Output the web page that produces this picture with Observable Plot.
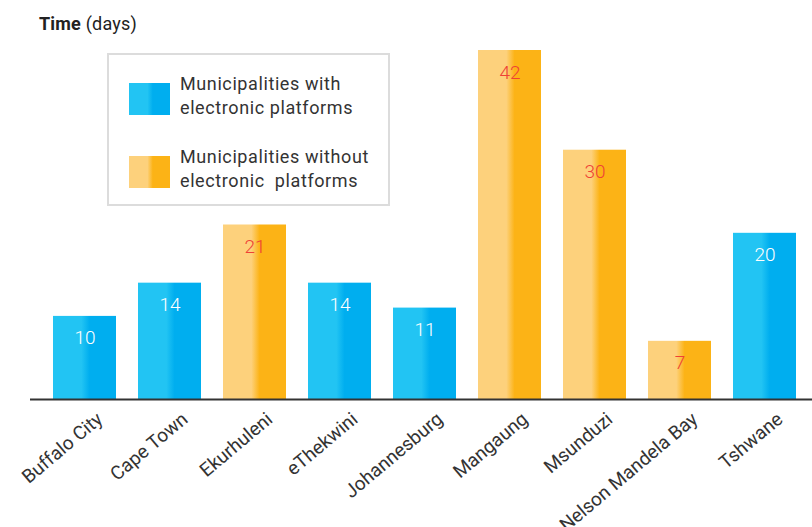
<!DOCTYPE html>
<html>
<head>
<meta charset="utf-8">
<script src="https://cdn.jsdelivr.net/npm/d3@7"></script>
<script src="https://cdn.jsdelivr.net/npm/@observablehq/plot@0.6"></script>
<style>
  body { margin: 0; background: #fff; font-family: Roboto, sans-serif; }
  #wrap { position: relative; width: 812px; height: 527px; overflow: hidden; }
  #title { position: absolute; left: 39px; top: 13px; font-size: 18px; color: #222; letter-spacing: 0.2px; }
  #title b { font-weight: 700; }
  #legend { position: absolute; left: 107px; top: 53px; width: 279px; height: 149px;
            border: 2px solid #dcdcdc; background: #fff; }
  .item { position: absolute; left: 20px; display: flex; align-items: center; }
  .sw { width: 41px; height: 32px; margin-right: 10px; }
  .lbl { font-size: 18px; line-height: 24px; color: #333; letter-spacing: 0.6px; position: relative; top: -3px; }
  svg { position: absolute; left: 0; top: 0; }
</style>
</head>
<body>
<div id="wrap">
  <div id="chart"></div>
  <div id="title"><b>Time</b> (days)</div>
  <div id="legend"></div>
</div>
<script>
const categories = ["Buffalo City","Cape Town","Ekurhuleni","eThekwini","Johannesburg","Mangaung","Msunduzi","Nelson Mandela Bay","Tshwane"];
const values = [10, 14, 21, 14, 11, 42, 30, 7, 20];
const groups = ["with","with","without","with","with","without","without","without","with"];
const legendLabels = ["Municipalities with<br>electronic platforms", "Municipalities without<br>electronic&nbsp; platforms"];
const groupKeys = ["with", "without"];

const gradIds = {with: "gradBlue", without: "gradOrange"};
const gradColors = {with: ["#22c4f3", "#00aeef"], without: ["#fdd17c", "#fcb316"]};
const labelColors = {with: "#ffffff", without: "#ef4136"};

const data = categories.map((c, i) => ({cat: c, value: values[i], group: groups[i]}));

const chart = Plot.plot({
  width: 812,
  height: 527,
  marginTop: 50,
  marginBottom: 128,
  marginLeft: 30,
  marginRight: 0,
  style: {fontFamily: "Roboto, sans-serif", overflow: "visible"},
  x: {domain: categories, paddingInner: 0.264, paddingOuter: 0.2267, align: 0.59, label: null},
  y: {domain: [0, 42], axis: null},
  color: {type: "identity"},
  marks: [
    Plot.barY(data, {x: "cat", y: "value", fill: d => `url(#${gradIds[d.group]})`}),
    Plot.text(data, {x: "cat", y: "value", text: d => String(d.value), dy: 22,
      fill: d => labelColors[d.group], fontSize: 19, fontWeight: 300}),
    Plot.ruleY([0], {stroke: "#333", strokeWidth: 2}),
    Plot.axisX({tickSize: 0, tickRotate: -40, tickPadding: 17, dx: 15, fontSize: 19, fill: "#333", label: null})
  ]
});

const svg = d3.select(chart);
const defs = svg.insert("defs", ":first-child");
for (const k of groupKeys) {
  const g = defs.append("linearGradient").attr("id", gradIds[k]).attr("x1", 0).attr("x2", 1).attr("y1", 0).attr("y2", 0);
  const [a, b] = gradColors[k];
  [[0, a], [0.45, a], [0.58, b], [1, b]].forEach(([o, c]) => g.append("stop").attr("offset", o).attr("stop-color", c));
}
document.getElementById("chart").appendChild(chart);

const legend = document.getElementById("legend");
groupKeys.forEach((k, i) => {
  const [a, b] = gradColors[k];
  const item = document.createElement("div");
  item.className = "item";
  item.style.top = (i === 0 ? 20 : 93) + "px";
  item.innerHTML = `<div class="sw" style="background:linear-gradient(to right, ${a} 0%, ${a} 45%, ${b} 58%, ${b} 100%)"></div><div class="lbl">${legendLabels[i]}</div>`;
  legend.appendChild(item);
});
</script>
</body>
</html>
